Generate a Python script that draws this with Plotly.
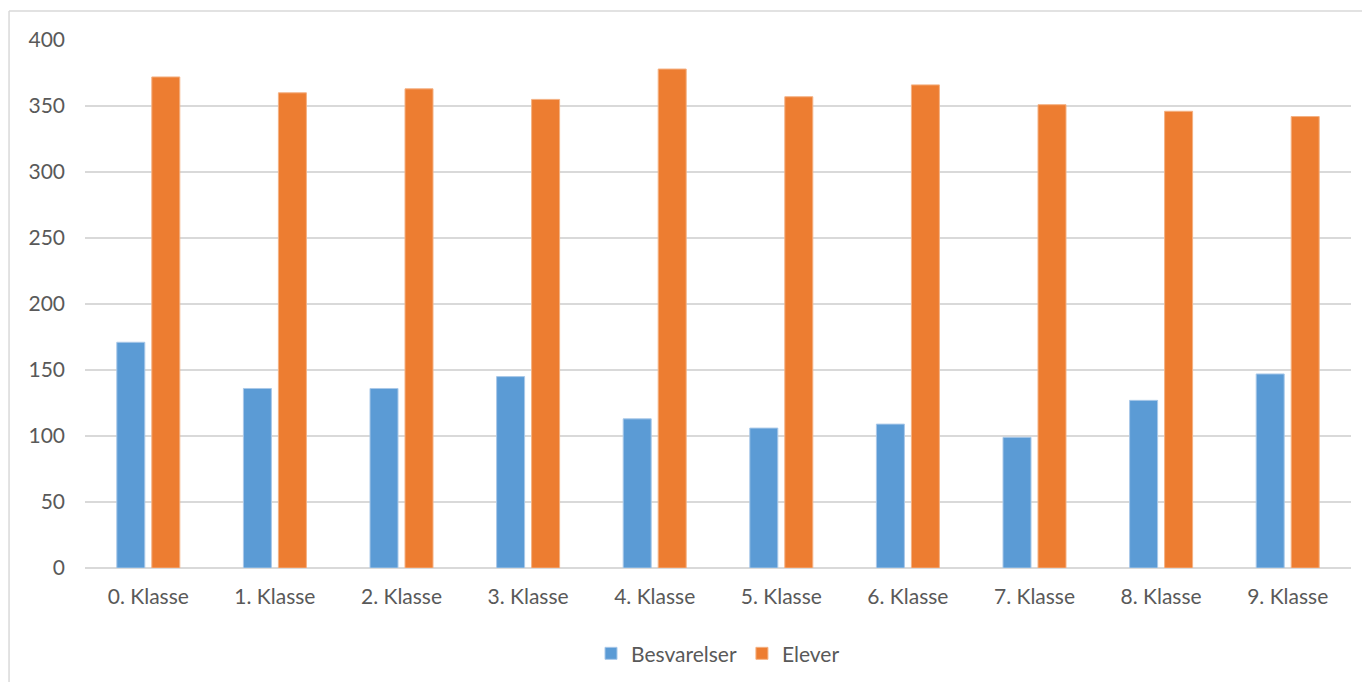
import plotly.graph_objects as go

categories = ["0. Klasse", "1. Klasse", "2. Klasse", "3. Klasse", "4. Klasse",
              "5. Klasse", "6. Klasse", "7. Klasse", "8. Klasse", "9. Klasse"]
besvarelser = [171, 136, 136, 145, 113, 106, 109, 99, 127, 147]
elever = [372, 360, 363, 355, 378, 357, 366, 351, 346, 342]
y_ticks = [0, 50, 100, 150, 200, 250, 300, 350, 400]

font = dict(family="Lato, Open Sans, sans-serif", size=21, color="#595959")

fig = go.Figure()
fig.add_trace(go.Bar(name="Besvarelser", x=categories, y=besvarelser,
                     marker=dict(color="#5b9bd5", line=dict(color="#a9c8e8", width=1))))
fig.add_trace(go.Bar(name="Elever", x=categories, y=elever,
                     marker=dict(color="#ed7d31", line=dict(color="#f4b183", width=1))))

fig.update_layout(
    width=1362, height=674,
    margin=dict(l=77, r=19, t=32, b=114),
    paper_bgcolor="white", plot_bgcolor="white",
    barmode="group", bargap=0.447, bargroupgap=0.2,
    font=font,
    showlegend=True,
    legend=dict(orientation="h", x=0.5, xanchor="center", xref="paper",
                y=0.042, yanchor="middle", yref="container",
                font=font, itemwidth=30, traceorder="normal"),
    xaxis=dict(showgrid=False, showline=False, ticks="", tickfont=font, ticklabelstandoff=14,
               automargin=False),
    yaxis=dict(range=[0, 400], tickvals=y_ticks, showgrid=True, gridcolor="#d9d9d9",
               gridwidth=1.5, zeroline=True, zerolinecolor="#d9d9d9", zerolinewidth=1.5,
               showline=False, ticks="", tickfont=font, ticklabelstandoff=19, automargin=False),
    shapes=[
        dict(type="line", xref="paper", yref="paper", x0=-0.0600, x1=1.05, y0=1.0549, y1=1.0549,
             line=dict(color="#d9d9d9", width=1.5)),
        dict(type="line", xref="paper", yref="paper", x0=-0.0600, x1=-0.0600, y0=-0.25, y1=1.0549,
             line=dict(color="#d9d9d9", width=1.5)),
    ],
)

fig.write_html("out.html")
